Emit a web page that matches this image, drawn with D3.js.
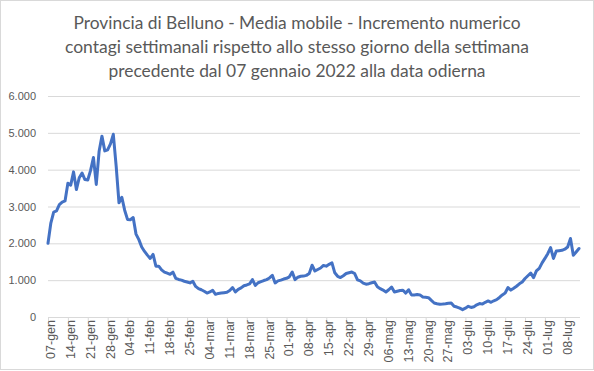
<!DOCTYPE html>
<html>
<head>
<meta charset="utf-8">
<script src="https://cdn.jsdelivr.net/npm/d3@7"></script>
<style>
  body { margin: 0; background: #fff; }
  svg text { fill: #595959; }
</style>
</head>
<body>
<svg id="chart"></svg>
<script>
// titolo
var titleLines = [
    "Provincia di Belluno - Media mobile - Incremento numerico",
    "contagi settimanali rispetto allo stesso giorno della settimana",
    "precedente dal 07 gennaio 2022 alla data odierna"
];

// primo giorno della serie
var startDay = "2022-01-07";

// valori giornalieri (07-gen ... 13-lug)
var values = [
    2000, 2550, 2850, 2880, 3050, 3120, 3150, 3630, 3580, 3940,
    3460, 3780, 3910, 3730, 3720, 3980, 4330, 3600, 4500, 4910,
    4510, 4540, 4700, 4960, 4100, 3100, 3250, 2900, 2650, 2640,
    2700, 2250, 2100, 1900, 1780, 1680, 1590, 1700, 1380, 1380,
    1280, 1220, 1190, 1160, 1220, 1050, 1020, 1000, 970, 950,
    925, 970, 830, 770, 740, 700, 650, 680, 725, 615,
    640, 650, 660, 670, 720, 800, 680, 750, 790, 850,
    870, 900, 1015, 860, 930, 960, 990, 1015, 1060, 1130,
    925, 980, 1000, 1030, 1050, 1090, 1220, 1015, 1080, 1105,
    1110, 1130, 1180, 1405, 1250, 1290, 1330, 1400, 1380, 1430,
    1470, 1200, 1105, 1070, 1120, 1180, 1200, 1220, 1180, 1010,
    980, 920, 890, 905, 930, 950, 820, 770, 730, 680,
    740, 815, 680, 700, 720, 725, 650, 740, 600, 600,
    610, 600, 545, 535, 525, 450, 380, 360, 345, 350,
    360, 375, 380, 290, 270, 240, 200, 240, 290, 260,
    280, 330, 365, 350, 400, 435, 400, 440, 470, 530,
    600, 650, 800, 730, 780, 835, 900, 950, 1045, 1120,
    1195, 1070, 1250, 1320, 1470, 1590, 1720, 1885, 1590, 1790,
    1800, 1810, 1840, 1900, 2130, 1675, 1765, 1860
];

// asse y
var yTicks = [0, 1000, 2000, 3000, 4000, 5000, 6000];

var mesi = ["gen", "feb", "mar", "apr", "mag", "giu", "lug", "ago", "set", "ott", "nov", "dic"];


var W = 594, H = 371;
var margin = {top: 96, right: 15, bottom: 54, left: 48};

var svg = d3.select("#chart")
    .attr("width", W)
    .attr("height", H);

// bordo del grafico
svg.append("rect")
    .attr("x", 0.5).attr("y", 0.5)
    .attr("width", W - 1).attr("height", H - 2)
    .attr("fill", "none")
    .attr("stroke", "#d9d9d9");

var parse = d3.timeParse("%Y-%m-%d");
var t0 = parse(startDay);

var df = values.map(function(v, i) {
    return {date: d3.timeDay.offset(t0, i), value: v};
});

var xScale = d3.scaleTime()
    .domain([df[0].date, df[df.length - 1].date])
    .range([margin.left, W - margin.right]);

var yScale = d3.scaleLinear()
    .domain([0, 6000])
    .range([H - margin.bottom, margin.top]);

var fmtNum = d3.formatLocale({decimal: ",", thousands: ".", grouping: [3], currency: ["€", ""]}).format(",");

// griglia + etichette y
svg.append("g")
    .attr("class", "y-axis")
    .attr("transform", "translate(" + margin.left + ",0)")
    .call(d3.axisLeft(yScale)
        .tickValues(yTicks)
        .tickSize(-(W - margin.right - margin.left + 1))
        .tickPadding(12)
        .tickFormat(function(d) { return fmtNum(d); })
    )
    .call(function(g) {
        g.select(".domain").remove();
        g.selectAll(".tick line").attr("stroke", "#d9d9d9");
        g.selectAll(".tick text")
            .style("font-family", "'Liberation Sans', Arial, sans-serif")
            .style("font-size", "11px");
    });

// asse x con etichette settimanali
var xTickValues = d3.timeDay.range(df[0].date, df[df.length - 1].date, 7);

svg.append("g")
    .attr("class", "x-axis")
    .attr("transform", "translate(0," + (H - margin.bottom) + ")")
    .call(d3.axisBottom(xScale)
        .tickValues(xTickValues)
        .tickSize(5)
        .tickSizeOuter(0)
        .tickFormat(function(d) {
            return d3.timeFormat("%d")(d) + "-" + mesi[d.getMonth()];
        })
    )
    .call(function(g) {
        g.select(".domain").attr("stroke", "#d9d9d9")
            .attr("d", "M" + margin.left + ",0.5H" + (W - margin.right + 1));
        g.selectAll(".tick line").attr("stroke", "#d9d9d9");
        g.selectAll(".tick text")
            .style("font-family", "'Liberation Sans', Arial, sans-serif")
            .style("font-size", "12.5px")
            .attr("transform", "rotate(-90)")
            .attr("text-anchor", "end")
            .attr("x", -3)
            .attr("y", 2)
            .attr("dy", "0.35em");
    });

// linea
var line = d3.line()
    .x(function(d) { return xScale(d.date); })
    .y(function(d) { return yScale(d.value); });

svg.append("path")
    .datum(df)
    .attr("fill", "none")
    .attr("stroke", "#4472c4")
    .attr("stroke-width", 3)
    .attr("stroke-linejoin", "round")
    .attr("stroke-linecap", "round")
    .attr("d", line);

// titolo
var titleWidths = [447, 464, 377];

svg.append("g")
    .selectAll("text")
    .data(titleLines)
    .enter()
    .append("text")
    .attr("x", 297)
    .attr("y", function(d, i) { return 29 + i * 24; })
    .attr("text-anchor", "middle")
    .attr("textLength", function(d, i) { return titleWidths[i]; })
    .attr("lengthAdjust", "spacingAndGlyphs")
    .style("font-family", "Lato, 'Open Sans', sans-serif")
    .style("font-size", "16.5px")
    .text(function(d) { return d; });
</script>
</body>
</html>
